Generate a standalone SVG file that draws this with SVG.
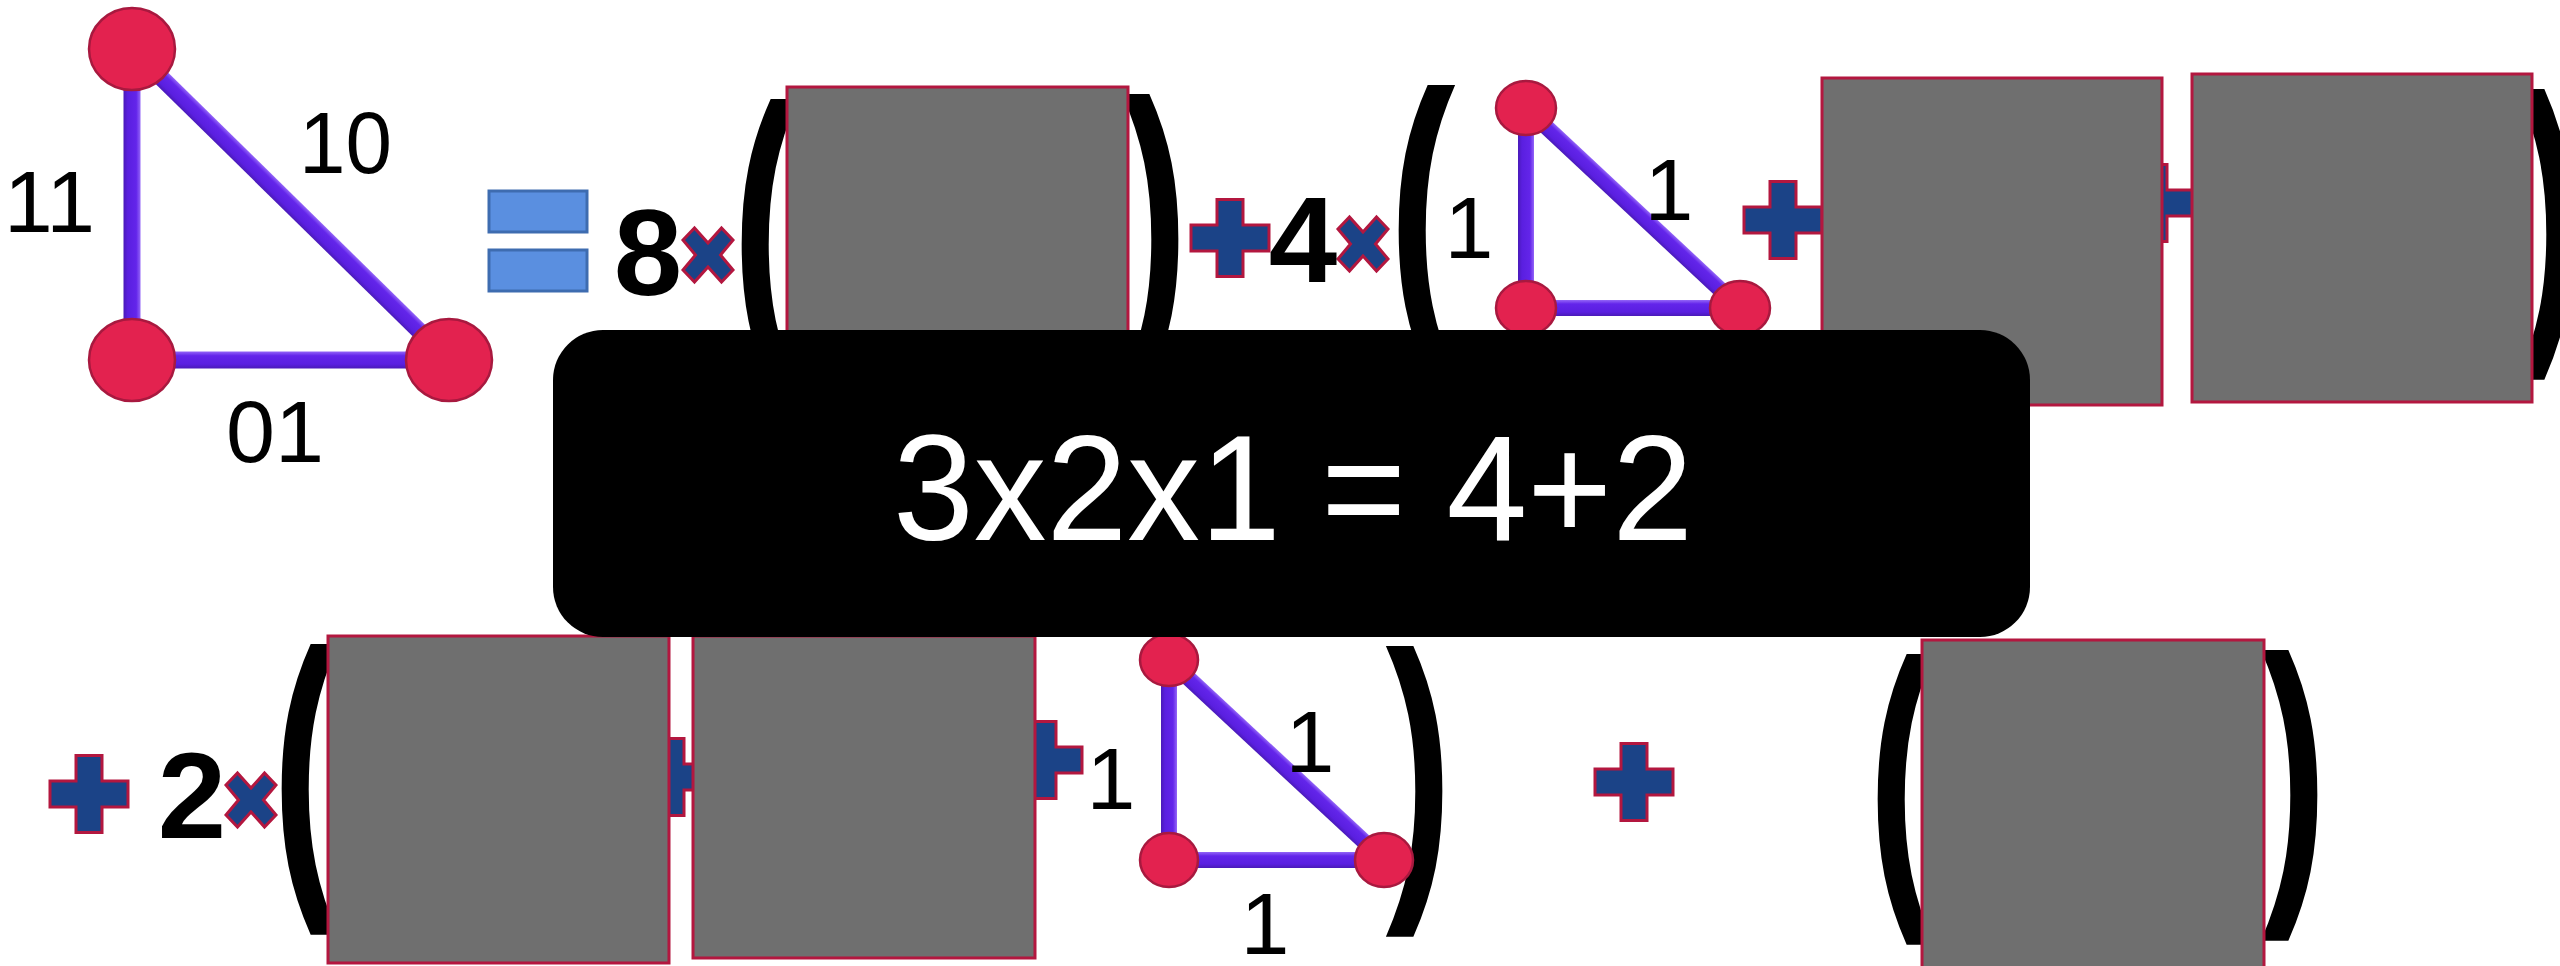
<svg xmlns="http://www.w3.org/2000/svg" width="2560" height="966" viewBox="0 0 2560 966">
<style>
.node{fill:#e3224f;stroke:#a8193f;stroke-width:2.5}
.edge{fill:url(#eg)}
.box{fill:#6f6f6f;stroke:#b3173f;stroke-width:3}
.op{fill:#1b4387;stroke:#b3173f;stroke-width:3}
.eq{fill:#5a8fe0;stroke:#3e6cb0;stroke-width:3}
.lbl{font-family:"Liberation Sans",Arial,sans-serif;font-size:88px;fill:#000}
.num{font-family:"Liberation Sans",Arial,sans-serif;font-size:123px;font-weight:bold;fill:#000;text-anchor:middle}
.par{font-family:"Liberation Sans",Arial,sans-serif;font-size:200px;font-weight:bold;fill:#000;text-anchor:middle}
.main{font-family:"Liberation Sans",Arial,sans-serif;font-size:150px;fill:#fff}
</style>
<defs>
<linearGradient id="eg" x1="0" y1="0" x2="0" y2="1">
<stop offset="0" stop-color="#9466f7"/>
<stop offset="0.25" stop-color="#6325ea"/>
<stop offset="0.75" stop-color="#5a1fe0"/>
<stop offset="1" stop-color="#4a1ab8"/>
</linearGradient>
<path id="plus" d="M-13,-38.5 H13 V-13 H39 V13 H13 V38.5 H-13 V13 H-39 V-13 H-13 Z"/>
<path id="times" d="M-25,-15 L-13.5,-27 L0,-12 L13.5,-27 L25,-15 L12.5,0 L25,15 L13.5,27 L0,12 L-13.5,27 L-25,15 L-12.5,0 Z"/>
</defs>

<!-- parentheses (behind boxes) -->
<g id="parens">
<text class="par" transform="translate(765,325) scale(1,1.56)">(</text>
<text class="par" transform="translate(1155,320) scale(1,1.56)">)</text>
<text class="par" transform="translate(1422,311) scale(1,1.56)">(</text>
<text class="par" transform="translate(2550,315) scale(1,1.56)">)</text>
<text class="par" transform="translate(305,870) scale(1,1.56)">(</text>
<text class="par" transform="translate(1419,872) scale(1,1.56)">)</text>
<text class="par" transform="translate(1901,880) scale(1,1.56)">(</text>
<text class="par" transform="translate(2294,876) scale(1,1.56)">)</text>
</g>

<!-- operators -->
<g id="operators">
<g id="equals">
<rect class="eq" x="489" y="191" width="98" height="41"/>
<rect class="eq" x="489" y="250" width="98" height="41"/>
</g>
<use href="#times" class="op" x="708" y="255"/>
<use href="#plus" class="op" x="1230" y="238"/>
<use href="#times" class="op" x="1363" y="244"/>
<use href="#plus" class="op" x="1783" y="220"/>
<use href="#plus" class="op" x="2154" y="203"/>
<use href="#plus" class="op" x="89" y="794"/>
<use href="#times" class="op" x="251" y="800"/>
<use href="#plus" class="op" x="671" y="777"/>
<use href="#plus" class="op" x="1043" y="760"/>
<use href="#plus" class="op" x="1634" y="782"/>
</g>

<!-- coefficients -->
<g id="coefficients">
<text class="num" x="648" y="295">8</text>
<text class="num" x="1303" y="282">4</text>
<text class="num" x="192" y="838">2</text>
</g>

<!-- connectors -->
<g id="connectors">
<rect class="edge" x="0" y="-8.5" width="311" height="17" transform="translate(132,49) rotate(90)"/>
<rect class="edge" x="0" y="-8.5" width="317" height="17" transform="translate(132,360)"/>
<rect class="edge" x="0" y="-8.5" width="444" height="17" transform="translate(132,49) rotate(44.46)"/>
<rect class="edge" x="0" y="-8" width="200" height="16" transform="translate(1526,108) rotate(90)"/>
<rect class="edge" x="0" y="-8" width="214" height="16" transform="translate(1526,308)"/>
<rect class="edge" x="0" y="-8" width="293" height="16" transform="translate(1526,108) rotate(43.06)"/>
<rect class="edge" x="0" y="-8" width="200" height="16" transform="translate(1169,660) rotate(90)"/>
<rect class="edge" x="0" y="-8" width="215" height="16" transform="translate(1169,860)"/>
<rect class="edge" x="0" y="-8" width="294" height="16" transform="translate(1169,660) rotate(42.93)"/>
</g>

<!-- big triangle nodes -->
<g id="n1a"><ellipse class="node" cx="132" cy="49" rx="43" ry="41"/></g>
<g id="n1b"><ellipse class="node" cx="132" cy="360" rx="43" ry="41"/></g>
<g id="n1c"><ellipse class="node" cx="449" cy="360" rx="43" ry="41"/></g>
<g id="labels1">
<text class="lbl" x="4" y="232" textLength="91" lengthAdjust="spacingAndGlyphs">11</text>
<text class="lbl" x="299" y="173" textLength="93" lengthAdjust="spacingAndGlyphs">10</text>
<text class="lbl" x="226" y="462" textLength="98" lengthAdjust="spacingAndGlyphs">01</text>
</g>

<!-- top small triangle -->
<g id="n2a"><ellipse class="node" cx="1526" cy="108" rx="30" ry="27"/></g>
<g id="n2b"><ellipse class="node" cx="1526" cy="308" rx="30" ry="27"/></g>
<g id="n2c"><ellipse class="node" cx="1740" cy="308" rx="30" ry="27"/></g>
<g id="labels2">
<text class="lbl" x="1469" y="258" font-size="85" text-anchor="middle">1</text>
<text class="lbl" x="1669" y="220" font-size="85" text-anchor="middle">1</text>
</g>

<!-- bottom small triangle -->
<g id="n3a"><ellipse class="node" cx="1169" cy="660" rx="29" ry="26"/></g>
<g id="n3b"><ellipse class="node" cx="1169" cy="860" rx="29" ry="27"/></g>
<g id="n3c"><ellipse class="node" cx="1384" cy="860" rx="29" ry="27"/></g>
<g id="labels3">
<text class="lbl" x="1111" y="809" font-size="85" text-anchor="middle">1</text>
<text class="lbl" x="1310" y="772" font-size="85" text-anchor="middle">1</text>
<text class="lbl" x="1265" y="954" font-size="85" text-anchor="middle">1</text>
</g>

<!-- grey boxes -->
<g id="boxA"><rect class="box" x="787" y="87" width="341" height="327"/></g>
<g id="boxB"><rect class="box" x="1822" y="78" width="340" height="327"/></g>
<g id="boxC"><rect class="box" x="2192" y="74" width="340" height="328"/></g>
<g id="boxD"><rect class="box" x="328" y="636" width="341" height="327"/></g>
<g id="boxE"><rect class="box" x="693" y="636" width="342" height="322"/></g>
<g id="boxF"><rect class="box" x="1922" y="640" width="342" height="330"/></g>

<!-- caption overlay -->
<g id="caption">
<rect x="553" y="330" width="1477" height="307" rx="50" ry="50" fill="#000"/>
<text class="main" x="893" y="540" textLength="800" lengthAdjust="spacingAndGlyphs">3x2x1 = 4+2</text>
</g>
</svg>
